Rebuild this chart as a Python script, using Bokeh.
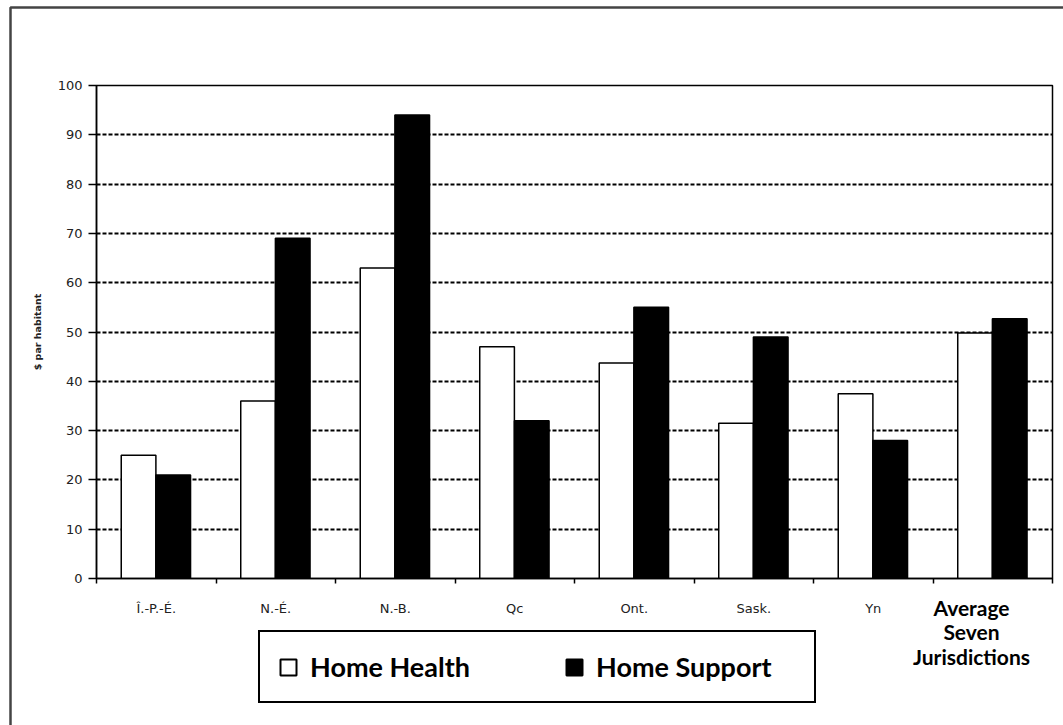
from bokeh.plotting import figure
from bokeh.layouts import column
from bokeh.models import (ColumnDataSource, FixedTicker, Legend, LegendItem, Label,
                          BoxAnnotation, Range1d)
from bokeh.embed import file_html
from bokeh.resources import INLINE
from bokeh.transform import dodge

categories = ["Î.-P.-É.", "N.-É.", "N.-B.", "Qc", "Ont.", "Sask.", "Yn",
              "Average\nSeven\nJurisdictions"]
home_health = [25, 36, 63, 47, 43.7, 31.5, 37.5, 49.8]
home_support = [21, 69, 94, 32, 55, 49, 28, 52.7]
y_ticks = [0, 10, 20, 30, 40, 50, 60, 70, 80, 90, 100]
series_names = ["Home Health", "Home Support"]

W, H = 1063, 725
positions = [i + 0.5 for i in range(len(categories))]
boundaries = [i for i in range(len(categories) + 1)]

src = ColumnDataSource(dict(pos=positions, hh=home_health, hs=home_support,
                            zero=[0] * len(categories)))

p = figure(width=W, height=H, output_backend="svg", toolbar_location=None,
           x_range=Range1d(0, len(categories)), y_range=Range1d(0, 100),
           min_border_left=96, min_border_right=11, min_border_top=85,
           min_border_bottom=147, background_fill_color="white",
           border_fill_color="white", margin=0)

p.outline_line_color = "black"
p.outline_line_width = 1.5
p.outline_line_alpha = 1

r_hh = p.vbar(x=dodge("pos", -0.148), top="hh", width=0.29, source=src,
              fill_color="white", line_color="black", line_width=1.5)
r_hs = p.vbar(x=dodge("pos", 0.142), top="hs", width=0.29, source=src,
              fill_color="black", line_color="black", line_width=1.5)

# grid
p.xgrid.visible = False
p.ygrid.ticker = FixedTicker(ticks=y_ticks)
p.ygrid.grid_line_color = "black"
p.ygrid.grid_line_alpha = 1
p.ygrid.grid_line_width = 2.2
p.ygrid.grid_line_dash = "4 2"

# y axis
ya = p.yaxis[0]
ya.ticker = FixedTicker(ticks=y_ticks)
ya.axis_line_color = "black"
ya.axis_line_width = 1.5
ya.major_tick_line_color = "black"
ya.major_tick_line_width = 1.5
ya.major_tick_out = 8
ya.major_tick_in = 0
ya.minor_tick_line_color = None
ya.major_label_standoff = 6
ya.major_label_text_font = "DejaVu Sans"
ya.major_label_text_font_size = "13px"
ya.major_label_text_color = "#222222"
ya.axis_label = "$ par habitant"
ya.axis_label_text_font = "DejaVu Sans"
ya.axis_label_text_font_size = "9.5px"
ya.axis_label_text_font_style = "bold"
ya.axis_label_text_color = "#222222"
ya.axis_label_standoff = 12

# x axis: labels at centres, ticks at boundaries
xa = p.xaxis[0]
xa.ticker = FixedTicker(ticks=positions, minor_ticks=boundaries)
overrides = {}
for pos, cat in zip(positions, categories):
    overrides[pos] = cat if "\n" not in cat else ""
xa.major_label_overrides = overrides
xa.axis_line_color = "black"
xa.axis_line_width = 1.5
xa.major_tick_out = 0
xa.major_tick_in = 0
xa.minor_tick_line_color = "black"
xa.minor_tick_line_width = 1.5
xa.minor_tick_out = 5
xa.minor_tick_in = 0
xa.major_label_standoff = 17
xa.major_label_text_font = "DejaVu Sans"
xa.major_label_text_font_size = "13px"
xa.major_label_text_color = "#222222"

# transparent overlay figure (pixel coordinates) for legend, label and frame
ov = figure(width=W, height=H, output_backend="svg", toolbar_location=None,
            x_range=Range1d(0, W), y_range=Range1d(H, 0),
            x_axis_location=None, y_axis_location=None,
            min_border=0, min_border_left=0, min_border_right=0,
            min_border_top=0, min_border_bottom=0,
            background_fill_alpha=0, border_fill_alpha=0,
            outline_line_color=None, margin=(-H, 0, 0, 0))
ov.xgrid.visible = False
ov.ygrid.visible = False
if "frame_align" in ov.properties():
    ov.frame_align = False
    p.frame_align = False
else:
    ov.x_range = Range1d(96, 1052)

# zero-size proxies: they only lend their style to the legend keys
k_hh = ov.vbar(x="pos", top="zero", width=0, source=src, fill_color="white",
               line_color="black", line_width=2)
k_hs = ov.vbar(x="pos", top="zero", width=0, source=src, fill_color="black",
               line_color="black", line_width=2)

legend = Legend(items=[LegendItem(label=series_names[0], renderers=[k_hh]),
                       LegendItem(label=series_names[1], renderers=[k_hs])],
                orientation="horizontal", location=(258, H - 703),
                glyph_width=20, glyph_height=20, label_standoff=12,
                label_width=200, spacing=54, padding=18, margin=0,
                label_text_font="Lato", label_text_font_style="bold",
                label_text_font_size="27px", label_text_color="black",
                border_line_color="black", border_line_width=2,
                border_line_alpha=1,
                background_fill_color="white", background_fill_alpha=1)
ov.add_layout(legend, "center")

ov.add_layout(Label(x=971, y=594, text=categories[-1],
                    text_align="center", text_baseline="top",
                    text_font="Lato", text_font_style="bold",
                    text_font_size="21px", text_color="black",
                    text_line_height=0.98))

ov.add_layout(BoxAnnotation(left=10, right=W + 20, top=7, bottom=H + 20,
                            fill_alpha=0, line_color="#444444", line_alpha=1,
                            line_width=2.5))

layout = column(p, ov, spacing=0, margin=0)
open("out.html", "w").write(file_html(layout, INLINE))
